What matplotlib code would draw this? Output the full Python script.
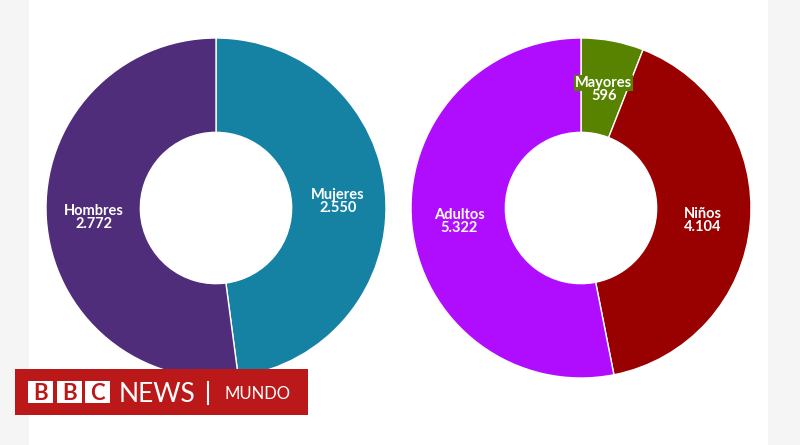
import matplotlib.pyplot as plt
from matplotlib.patches import Rectangle

# left donut: sex
sex_labels = ["Mujeres", "Hombres"]
sex_values = [2550, 2772]
sex_colors = ["#1682a3", "#4f2d7a"]

# right donut: age group
age_labels = ["Mayores", "Niños", "Adultos"]
age_values = [596, 4104, 5322]
age_colors = ["#588300", "#990000", "#b00dff"]

W, H = 800, 445
fig = plt.figure(figsize=(8, 4.45), dpi=100)
fig.patch.set_facecolor("white")

# gray side strips
fig.patches.append(Rectangle((0, 0), 29 / W, 1, transform=fig.transFigure,
                             facecolor="#f5f5f5", edgecolor="none", zorder=0))
fig.patches.append(Rectangle((768 / W, 0), 32 / W, 1, transform=fig.transFigure,
                             facecolor="#f5f5f5", edgecolor="none", zorder=0))


def fmt(v):
    return f"{v:,}".replace(",", ".")


def donut(cx, cy, r, labels, values, colors, boxed=None):
    ax = fig.add_axes([(cx - r) / W, (H - cy - r) / H, 2 * r / W, 2 * r / H])
    texts = ax.pie(values, colors=colors, startangle=90, counterclock=False,
                   radius=1, labels=labels, labeldistance=0.72,
                   wedgeprops=dict(width=0.555, edgecolor="white", linewidth=1),
                   textprops=dict(color="white", fontsize=10.5, fontweight="bold",
                                  family="Lato"))[1]
    for t, c, v in zip(texts, colors, values):
        x, y = t.get_position()
        # name sits above the anchor, value below
        t.set_ha("center")
        t.set_va("baseline")
        t.set_position((x, y + 0.005))
        ax.annotate(fmt(v), (x, y), xytext=(0, -1), textcoords="offset points",
                    ha="center", va="top", color="white", fontsize=10.5,
                    fontweight="bold", family="Lato")
        if boxed and t.get_text() == boxed:
            t.set_bbox(dict(facecolor=c, edgecolor="none", pad=0.6))
    ax.set_xlim(-1, 1)
    ax.set_ylim(-1, 1)
    ax.set_aspect("equal")
    ax.axis("off")
    return ax


donut(216, 208, 170, sex_labels, sex_values, sex_colors)
donut(581, 208, 170, age_labels, age_values, age_colors, boxed="Mayores")

# BBC News Mundo logo
red = "#bb1919"
fig.patches.append(Rectangle((15 / W, (H - 415) / H), 293 / W, 46 / H,
                             transform=fig.transFigure, facecolor=red,
                             edgecolor="none", zorder=5))
for x0, ch in zip([28, 57, 85], "BBC"):
    fig.patches.append(Rectangle((x0 / W, (H - 403) / H), 25 / W, 22 / H,
                                 transform=fig.transFigure, facecolor="white",
                                 edgecolor="none", zorder=6))
    fig.text((x0 + 12.5) / W, (H - 392) / H, ch, color=red, fontsize=16,
             fontweight="bold", family="Lato", ha="center", va="center_baseline",
             zorder=7)
fig.text(157 / W, (H - 392) / H, "NEWS", color="white", fontsize=19,
         family="Lato", ha="center", va="center_baseline", zorder=7)
fig.add_artist(plt.Line2D([208 / W, 208 / W], [(H - 404) / H, (H - 382) / H],
                          color="white", linewidth=1.5, zorder=7))
fig.text(257 / W, (H - 392.5) / H, "MUNDO", color="white", fontsize=12,
         family="Lato", ha="center", va="center_baseline", zorder=7)

fig.savefig("out.png", dpi=100)
